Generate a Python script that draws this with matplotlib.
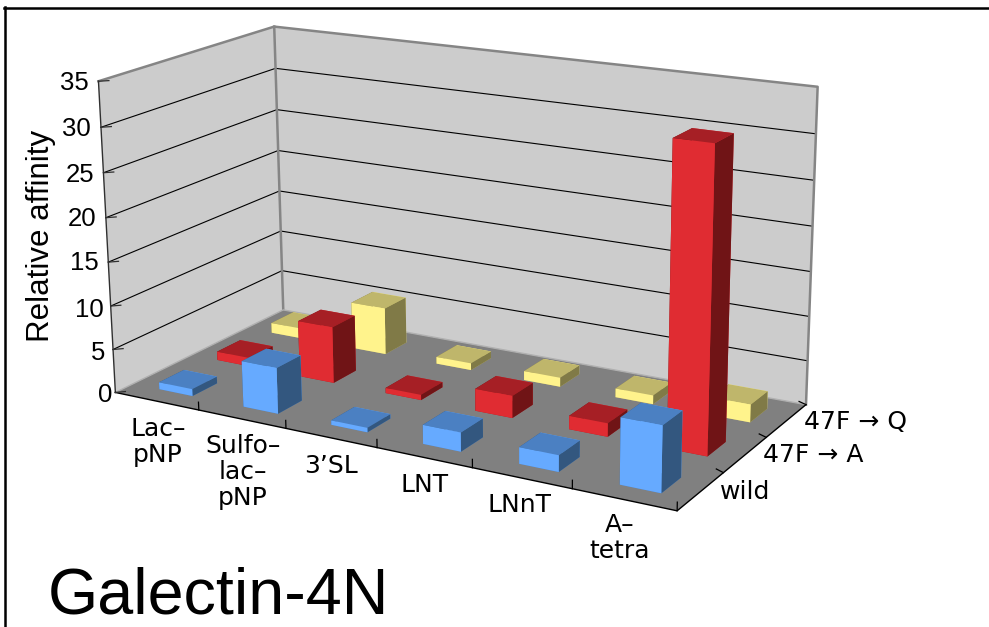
import matplotlib

matplotlib.use("Agg")
import matplotlib.pyplot as plt
import numpy as np
from matplotlib.lines import Line2D
from mpl_toolkits.mplot3d.art3d import Poly3DCollection

W, H = 989, 627

categories = ["Lac–\npNP", "Sulfo–\nlac–\npNP", "3’SL", "LNT", "LNnT", "A–\ntetra"]
series = ["wild", "47F → A", "47F → Q"]
z_ticks = [0, 5, 10, 15, 20, 25, 30, 35]

wild = [0.8, 5.2, 0.5, 2.1, 1.8, 7.1]
f47a = [1.0, 6.5, 0.6, 2.5, 1.5, 32.8]
f47q = [1.2, 5.5, 0.8, 1.05, 1.0, 2.0]
values = [wild, f47a, f47q]

# front (-y), top (+z), side (+x) shades for each series
shades = [
    ("#66AAFF", "#4B80C2", "#33577F"),
    ("#E02C32", "#A61F25", "#701416"),
    ("#FFF38C", "#BFB66B", "#807A47"),
]
WALL = "#CCCCCC"
FLOOR = "#808080"
EDGE = "#858585"
BAR_W = 0.4
BAR_D = 0.42

plt.rcParams["font.family"] = ["Liberation Sans", "DejaVu Sans"]

fig = plt.figure(figsize=(W / 100, H / 100), dpi=100)
S = 756.27
ax = fig.add_axes([67.11 / W, -5.77 / H, S / W, S / H], projection="3d", computed_zorder=False)
ax.set_xlim(0, 6, view_margin=0)
ax.set_ylim(0, 3, view_margin=0)
ax.set_zlim(0, 35, view_margin=0)
ax.view_init(elev=16.7233, azim=-59.7650, roll=0.5377)
ax.set_proj_type("persp", focal_length=0.5693)
ax.set_box_aspect((1.9371, 0.9379, 1))
ax.set_axis_off()
ax.patch.set_alpha(0)

zmax = z_ticks[-1]
nx, ny = len(categories), len(series)
walls = [
    [(0, ny, 0), (nx, ny, 0), (nx, ny, zmax), (0, ny, zmax)],
    [(0, 0, 0), (0, ny, 0), (0, ny, zmax), (0, 0, zmax)],
]
ax.add_collection3d(Poly3DCollection(walls, facecolors=WALL, edgecolors="none", zorder=1))
floor = [[(0, 0, 0), (nx, 0, 0), (nx, ny, 0), (0, ny, 0)]]
ax.add_collection3d(Poly3DCollection(floor, facecolors=FLOOR, edgecolors="none", zorder=1))

for z in z_ticks[1:-1]:
    ax.plot([0, 0, nx], [0, ny, ny], [z, z, z], color="black", lw=0.8, zorder=2)

# wall outline
ax.plot([0, 0, nx, nx], [0, ny, ny, ny], [zmax, zmax, zmax, 0], color=EDGE, lw=1.8, zorder=3)
ax.plot([0, 0], [ny, ny], [0, zmax], color=EDGE, lw=1.8, zorder=3)
ax.plot([0, 0, nx], [0, ny, ny], [0, 0, 0], color="#B0B0B0", lw=1.0, zorder=3)

# axis lines and ticks
ax.plot([0, 0], [0, 0], [0, zmax], color="#303030", lw=1.0, zorder=4)
ax.plot([0, nx, nx], [0, 0, ny], [0, 0, 0], color="black", lw=1.0, zorder=4)
for z in z_ticks:
    ax.plot([0, 0.07], [0, 0.07], [z, z], color="#303030", lw=0.9, zorder=4)
for i in range(1, nx + 1):
    ax.plot([i, i], [0, 0], [0, 0.9], color="black", lw=0.9, zorder=4)
for j in range(1, ny + 1):
    ax.plot([nx, nx - 0.09], [j, j + 0.05], [0, 0], color="black", lw=0.9, zorder=4)

# bars painted back to front
order = 10
for j in range(ny - 1, -1, -1):
    front, top, side = shades[j]
    for i in range(nx):
        face_colors = [top, top, front, front, side, side]
        ax.bar3d(i + 0.52 - BAR_W / 2, j + 0.5 - BAR_D / 2, 0, BAR_W, BAR_D, values[j][i],
                 color=face_colors, shade=False, linewidth=0, zorder=order)
        order += 1


def label(px, py, s, **kw):
    kw.setdefault("va", "center")
    fig.text(px / W, 1 - py / H, s, **kw)


z_label_right = [112, 105, 104, 99, 96, 94, 91, 89]
z_label_y = [395, 353, 310, 263, 219, 175, 129, 83]
for z, xr, yc in zip(z_ticks, z_label_right, z_label_y):
    label(xr, yc, str(z), ha="right", fontsize=18.5)

cat_x = [158, 243, 331, 425, 520, 620]
cat_y = [442, 472, 466, 485, 505, 538]
for name, xc, yc in zip(categories, cat_x, cat_y):
    label(xc, yc, name, ha="center", fontsize=18, linespacing=1.1, family="DejaVu Sans")

ser_x = [720, 763, 804]
ser_y = [492, 455, 422]
for name, xl, yc in zip(series, ser_x, ser_y):
    label(xl, yc, name, ha="left", fontsize=18, family="DejaVu Sans")

label(41, 236, "Relative affinity", ha="center", rotation=90, fontsize=22.5)
label(48, 613, "Galectin-4N", ha="left", va="baseline", fontsize=46.5)

# slide frame
for xs, ys in (([4, W], [7.5, 7.5]), ([5, 5], [7, H])):
    fig.add_artist(Line2D(np.array(xs) / W, 1 - np.array(ys) / H, color="black", lw=1.8))

fig.savefig("out.png", dpi=100)
